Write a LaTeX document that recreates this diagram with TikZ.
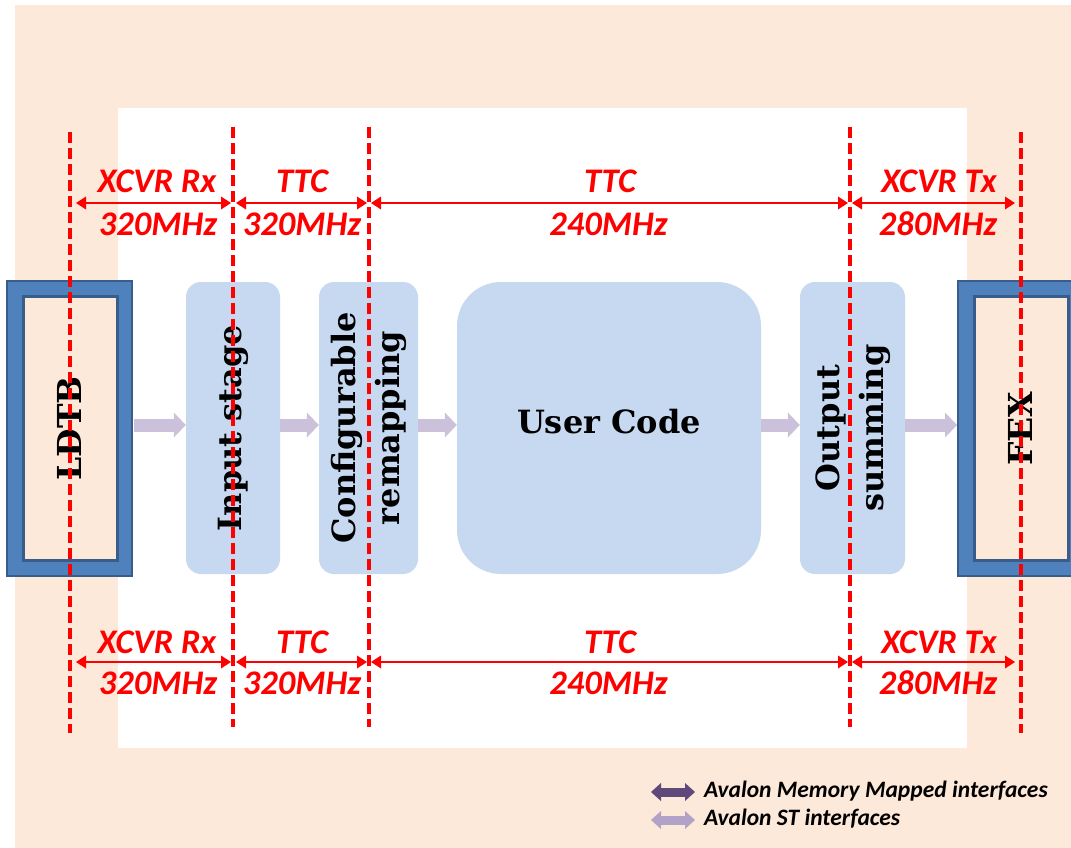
\documentclass[tikz,border=0pt]{standalone}
\usepackage{fontspec}
\newfontfamily\calibri{Carlito}
\newfontfamily\stagefont{DejaVu Serif}
\usetikzlibrary{arrows.meta,calc}

\definecolor{peach}{HTML}{FDE9D9}
\definecolor{blockblue}{HTML}{C6D9F1}
\definecolor{boxblue}{HTML}{4F81BD}
\definecolor{boxedge}{HTML}{385D8A}
\definecolor{stpurple}{HTML}{CCC1DA}
\definecolor{mmpurple}{HTML}{5F497A}
\definecolor{legendst}{HTML}{B3A2C7}
\definecolor{clkred}{HTML}{FF0000}

\tikzset{
  clkline/.style={draw=clkred, line width=3.4pt, dash pattern=on 11pt off 5pt},
  clkspan/.style={draw=clkred, line width=1.8pt,
    {Triangle[length=10pt,width=13pt,line width=0pt 0 0]}-{Triangle[length=10pt,width=13pt,line width=0pt 0 0]}},
  clklabel/.style={text=clkred, font=\calibri\bfseries\itshape\fontsize{34.5}{40}\selectfont,
    anchor=base, inner sep=0pt},
  block/.style={fill=blockblue, rounded corners=15pt, inner sep=0pt,
    font=\stagefont\bfseries\fontsize{32}{45}\selectfont},
  ioouter/.style={fill=boxblue, draw=boxedge, line width=2pt, inner sep=0pt,
    minimum width=125pt, minimum height=295pt,
    font=\stagefont\bfseries\fontsize{33}{40}\selectfont,
    path picture={\draw[fill=peach, draw=boxedge, line width=3pt]
      ([xshift=16pt,yshift=-15pt]path picture bounding box.north west) rectangle
      ([xshift=-15pt,yshift=16pt]path picture bounding box.south east);}},
  stflow/.style={draw=stpurple, line width=13pt,
    -{Triangle[length=12pt,width=25pt,line width=0pt 0 0]}},
  legendarrow/.style={line width=9pt,
    {Triangle[length=10pt,width=18pt,line width=0pt 0 0]}-{Triangle[length=10pt,width=18pt,line width=0pt 0 0]}},
  legendtext/.style={font=\calibri\bfseries\itshape\fontsize{23.5}{27}\selectfont,
    anchor=base west, inner sep=0pt},
}

\begin{document}
\begin{tikzpicture}[x=1pt,y=-1pt]
\useasboundingbox (0,0) rectangle (1071,848);
\clip (0,0) rectangle (1071,848);

% page background: white margin, peach frame, white working area
\fill[white] (0,0) rectangle (1071,848);
\fill[peach] (15,5) rectangle (1071,848);
\fill[white] (118,108) rectangle (967,748);

% interfaces at both ends
\node[ioouter] (ldtb) at (69.5,428.5) {\rotatebox{90}{LDTB}};
\node[ioouter] (fex) at (1020.5,428.5) {\rotatebox{90}{FEX}};

% processing stages
\node[block, minimum width=94pt, minimum height=292pt] (input) at (233,428)
  {\rotatebox{90}{Input stage}};
\node[block, minimum width=99pt, minimum height=292pt] (remap) at (368.5,428)
  {\rotatebox{90}{\begin{tabular}{@{}c@{}}Configurable\\[-1pt]remapping\end{tabular}}};
\node[block, rounded corners=44pt, minimum width=304pt, minimum height=292pt,
  text height=24pt, text depth=14pt] (user) at (609,428) {User Code};
\node[block, minimum width=105pt, minimum height=292pt] (sum) at (852.5,428)
  {\rotatebox{90}{\begin{tabular}{@{}c@{}}Output\\[-1pt]summing\end{tabular}}};

% Avalon ST data flow
\coordinate (flow) at (0,425);
\draw[stflow] ($(ldtb.east |- flow)+(1,0)$) -- (input.west |- flow);
\draw[stflow] (input.east |- flow) -- (remap.west |- flow);
\draw[stflow] (remap.east |- flow) -- (user.west |- flow);
\draw[stflow] (user.east |- flow) -- (sum.west |- flow);
\draw[stflow] (sum.east |- flow) -- (fex.west |- flow);

% clock domain boundaries
\coordinate (b1t) at (70,132);   \coordinate (b1b) at (70,733);
\coordinate (b2t) at (233,127);  \coordinate (b2b) at (233,727);
\coordinate (b3t) at (369,127);  \coordinate (b3b) at (369,727);
\coordinate (b4t) at (850,127);  \coordinate (b4b) at (850,727);
\coordinate (b5t) at (1021,132); \coordinate (b5b) at (1021,733);
\foreach \b in {1,...,5} \draw[clkline] (b\b t) -- (b\b b);

% clock domain spans, upper and lower rows
\foreach \row/\y in {up/203, lo/662} {
  \coordinate (\row) at (0,\y);
  \draw[clkspan] ($(b1t |- \row)+(6,0)$) -- ($(b2t |- \row)+(-2,0)$);
  \draw[clkspan] ($(b2t |- \row)+(3,0)$) -- ($(b3t |- \row)+(-2,0)$);
  \draw[clkspan] ($(b3t |- \row)+(2,0)$) -- ($(b4t |- \row)+(-2,0)$);
  \draw[clkspan] ($(b4t |- \row)+(2,0)$) -- ($(b5t |- \row)+(-6,0)$);
}

\foreach \row/\ya/\yb in {up/193/235, lo/653/694} {
  \node[clklabel] (\row rxa) at (157,\ya) {XCVR Rx};
  \node[clklabel] (\row rxb) at (158,\yb) {320MHz};
  \node[clklabel] (\row ttca) at (302,\ya) {TTC};
  \node[clklabel] (\row ttcb) at (302,\yb) {320MHz};
  \node[clklabel] (\row usra) at (610,\ya) {TTC};
  \node[clklabel] (\row usrb) at (608.5,\yb) {240MHz};
  \node[clklabel] (\row txa) at (939,\ya) {XCVR Tx};
  \node[clklabel] (\row txb) at (938,\yb) {280MHz};
}

% legend
\coordinate (mmL) at (651,792); \coordinate (mmR) at (695,792);
\coordinate (stL) at (651,820); \coordinate (stR) at (695,820);
\draw[legendarrow, draw=mmpurple] (mmL) -- (mmR);
\draw[legendarrow, draw=legendst] (stL) -- (stR);
\node[legendtext] (mmtext) at (704,797) {Avalon Memory Mapped interfaces};
\node[legendtext] (sttext) at (704,825) {Avalon ST interfaces};
\end{tikzpicture}
\end{document}
